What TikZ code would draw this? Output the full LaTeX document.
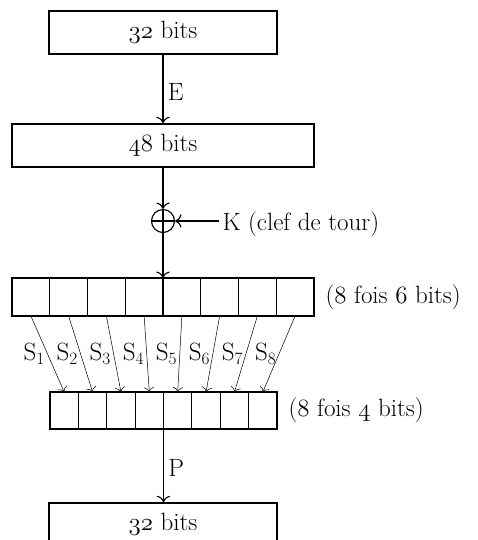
\documentclass[tikz,border=0pt]{standalone}
\usetikzlibrary{arrows.meta}
\newcommand\osn[1]{{\usefont{OML}{cmm}{m}{it}#1}}
\begin{document}
\begin{tikzpicture}[x=1pt,y=-1pt, font=\fontsize{25}{29}\selectfont,
  box/.style={draw, line width=1.6pt, minimum height=43pt, inner sep=0pt},
  cellu/.style={draw, line width=1.2pt, minimum width=37.75pt, minimum height=38pt, inner sep=0pt, outer sep=0pt},
  celll/.style={draw, line width=1.2pt, minimum width=28.375pt, minimum height=37pt, inner sep=0pt, outer sep=0pt},
  arr/.style={line width=1.1pt, -{To[scale=1.6]}},
  sarr/.style={line width=0.5pt, -{To[scale=1.8]}},
  frame/.style={line width=1.8pt}
]
\useasboundingbox (0,0) rectangle (478,540);
\clip (0,0) rectangle (478,540);
\node[box, minimum width=228pt] (in) at (163,32.5) {\osn{32} bits};
\node[box, minimum width=302pt] (e48) at (163,145.5) {\osn{48} bits};
\node[circle, draw, line width=1.1pt, minimum size=23pt, inner sep=0pt,
  path picture={\draw[line width=1.1pt] (path picture bounding box.north) -- (path picture bounding box.south)
  (path picture bounding box.west) -- (path picture bounding box.east);}] (xor) at (163,221) {};
\node[anchor=west] (K) at (219,224) {K (clef de tour)};
\foreach \i in {1,...,8} {
  \node[cellu] (u\i) at ({12+(\i-0.5)*37.75}, 297) {};
  \node[celll] (l\i) at ({50+(\i-0.5)*28.375}, 410.5) {};
}
\draw[frame] (u1.north west) rectangle (u8.south east);
\draw[frame] (l1.north west) rectangle (l8.south east);
\node[anchor=west] (r6) at ([xshift=8pt]u8.east) {(\osn{8} fois \osn{6} bits)};
\node[anchor=west] (r4) at ([xshift=8pt]l8.east) {(\osn{8} fois \osn{4} bits)};
\node[box, minimum width=228pt] (out) at (163,524.5) {\osn{32} bits};
\draw[arr] (in) -- node[right, xshift=1pt, yshift=-3pt] {E} (e48);
\draw[arr] (e48) -- (xor);
\draw[arr] (K.west |- xor.east) -- (xor.east);
\draw[arr] (xor) -- (u4.north east);
\foreach \i in {1,...,8} {
  \draw[sarr] (u\i.south) -- node[left, inner sep=2.5pt] {S$_{\i}$} (l\i.north);
}
\draw[arr] (l4.south east) -- (l4.south east |- out.north) node[midway, right, xshift=1pt, yshift=-2pt] {P};
\end{tikzpicture}
\end{document}
